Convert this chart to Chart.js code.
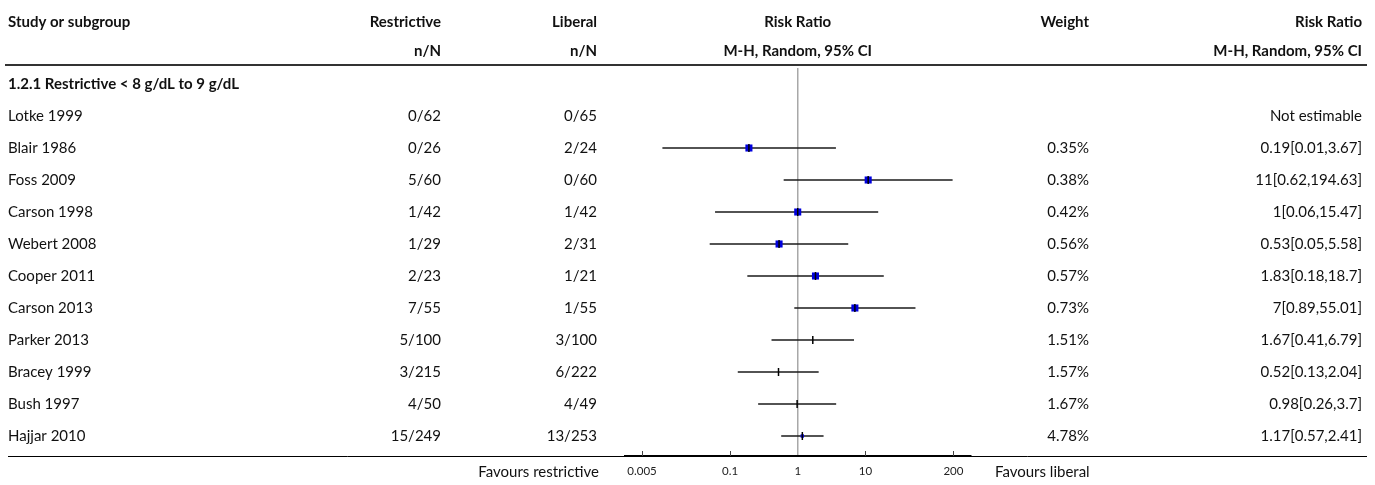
<!DOCTYPE html>
<html>
<head>
<meta charset="utf-8">
<script src="https://cdn.jsdelivr.net/npm/chart.js@4.4.0/dist/chart.umd.min.js"></script>
<style>
  html, body { margin: 0; padding: 0; background: #fff; }
  #wrap { width: 1375px; height: 485px; }
</style>
</head>
<body>
<div id="wrap"><canvas id="forest"></canvas></div>
<script>
// data
const subgroup = '1.2.1 Restrictive < 8 g/dL to 9 g/dL';
const studies = ['Lotke 1999', 'Blair 1986', 'Foss 2009', 'Carson 1998', 'Webert 2008', 'Cooper 2011',
  'Carson 2013', 'Parker 2013', 'Bracey 1999', 'Bush 1997', 'Hajjar 2010'];
const restrictive = ['0/62', '0/26', '5/60', '1/42', '1/29', '2/23', '7/55', '5/100', '3/215', '4/50', '15/249'];
const liberal = ['0/65', '2/24', '0/60', '1/42', '2/31', '1/21', '1/55', '3/100', '6/222', '4/49', '13/253'];
const riskRatio = [null, 0.19, 11, 1, 0.53, 1.83, 7, 1.67, 0.52, 0.98, 1.17];
const ciLow = [null, 0.01, 0.62, 0.06, 0.05, 0.18, 0.89, 0.41, 0.13, 0.26, 0.57];
const ciHigh = [null, 3.67, 194.63, 15.47, 5.58, 18.7, 55.01, 6.79, 2.04, 3.7, 2.41];
const weights = [null, 0.35, 0.38, 0.42, 0.56, 0.57, 0.73, 1.51, 1.57, 1.67, 4.78];
const axisTicks = [0.005, 0.1, 1, 10, 200];

const FONT = 'Lato';
const TEXT = '#111';

// one line dataset per CI whisker
const ciSets = [];
studies.forEach((s, i) => {
  if (riskRatio[i] == null) return;
  ciSets.push({
    type: 'line',
    data: [{ x: ciLow[i], y: i }, { x: ciHigh[i], y: i }],
    borderColor: '#1a1a1a',
    borderWidth: 1.6,
    pointRadius: 0,
    order: 3
  });
});

const pts = [];
studies.forEach((s, i) => {
  if (riskRatio[i] != null) pts.push({ x: riskRatio[i], y: i, w: weights[i] });
});

function squareRadius(ctx) {
  const w = ctx.raw ? ctx.raw.w : 0;
  if (w < 1) return 5;
  if (w > 4) return 2.4;
  return 0;
}

const tableText = {
  id: 'tableText',
  beforeDatasetsDraw(chart) {
    const c = chart.ctx;
    const x = chart.scales.x;
    c.save();
    // header rule and bottom rule
    c.strokeStyle = '#333';
    c.lineWidth = 2;
    c.beginPath(); c.moveTo(5, 65); c.lineTo(1367, 65); c.stroke();
    c.strokeStyle = '#000';
    c.lineWidth = 1;
    c.beginPath(); c.moveTo(8, x.top + 0.5); c.lineTo(1367, x.top + 0.5); c.stroke();
    c.restore();
  },
  afterDraw(chart) {
    const c = chart.ctx;
    const x = chart.scales.x;
    const y = chart.scales.y;
    const bottom = chart.chartArea.bottom;
    c.save();

    // small upward ticks on the axis
    c.strokeStyle = '#444';
    c.lineWidth = 1;
    axisTicks.forEach(v => {
      if (v === 1) return;
      const px = Math.round(x.getPixelForValue(v)) + 0.5;
      c.beginPath(); c.moveTo(px, bottom - 5); c.lineTo(px, bottom); c.stroke();
    });

    c.fillStyle = TEXT;
    c.textBaseline = 'middle';

    // column headers
    c.font = 'bold 15px ' + FONT;
    c.textAlign = 'left';
    c.fillText('Study or subgroup', 8, 22);
    c.textAlign = 'right';
    c.fillText('Restrictive', 441, 22);
    c.fillText('n/N', 441, 51);
    c.fillText('Liberal', 597, 22);
    c.fillText('n/N', 597, 51);
    c.fillText('Weight', 1089, 22);
    c.fillText('Risk Ratio', 1362, 22);
    c.fillText('M-H, Random, 95% CI', 1362, 51);
    c.textAlign = 'center';
    c.fillText('Risk Ratio', x.getPixelForValue(1), 22);
    c.fillText('M-H, Random, 95% CI', x.getPixelForValue(1), 51);

    // subgroup heading
    c.textAlign = 'left';
    c.fillText(subgroup, 8, y.getPixelForValue(-1));

    // study rows
    c.font = '15px ' + FONT;
    studies.forEach((s, i) => {
      const py = y.getPixelForValue(i);
      c.textAlign = 'left';
      c.fillText(s, 8, py);
      c.textAlign = 'right';
      c.fillText(restrictive[i], 441, py);
      c.fillText(liberal[i], 597, py);
      if (riskRatio[i] == null) {
        c.fillText('Not estimable', 1362, py);
      } else {
        c.fillText(weights[i] + '%', 1089, py);
        c.fillText(riskRatio[i] + '[' + ciLow[i] + ',' + ciHigh[i] + ']', 1362, py);
      }
    });

    // footer
    c.textAlign = 'right';
    c.fillText('Favours restrictive', 599, 472);
    c.textAlign = 'left';
    c.fillText('Favours liberal', 995, 472);
    c.restore();
  }
};

new Chart(document.getElementById('forest'), {
  type: 'scatter',
  data: {
    datasets: [
      {
        data: pts,
        pointStyle: 'line',
        rotation: 90,
        pointRadius: 4,
        borderColor: '#000',
        borderWidth: 1.5,
        order: 1
      },
      {
        data: pts,
        pointStyle: 'rect',
        pointRadius: squareRadius,
        backgroundColor: '#0000dd',
        borderWidth: 0,
        order: 2
      },
      ...ciSets
    ]
  },
  options: {
    responsive: true,
    maintainAspectRatio: false,
    animation: false,
    events: [],
    layout: { padding: { top: 68, left: 625, right: 404, bottom: 0 } },
    plugins: { legend: { display: false }, tooltip: { enabled: false } },
    scales: {
      x: {
        type: 'logarithmic',
        min: 0.0028,
        max: 364,
        afterBuildTicks: s => { s.ticks = axisTicks.map(v => ({ value: v })); },
        afterFit: s => { s.height = 29; },
        ticks: {
          padding: 8,
          color: '#222',
          font: { family: FONT, size: 11.5 },
          callback: v => String(v),
          autoSkip: false,
          maxRotation: 0
        },
        grid: {
          drawTicks: false,
          lineWidth: 1.5,
          color: ctx => (ctx.tick && ctx.tick.value === 1 ? '#a8a8a8' : 'rgba(0,0,0,0)')
        },
        border: { display: true, color: '#000', width: 2 }
      },
      y: {
        type: 'linear',
        reverse: true,
        min: -1.5,
        max: 10.625,
        display: false
      }
    }
  },
  plugins: [tableText]
});
</script>
</body>
</html>
